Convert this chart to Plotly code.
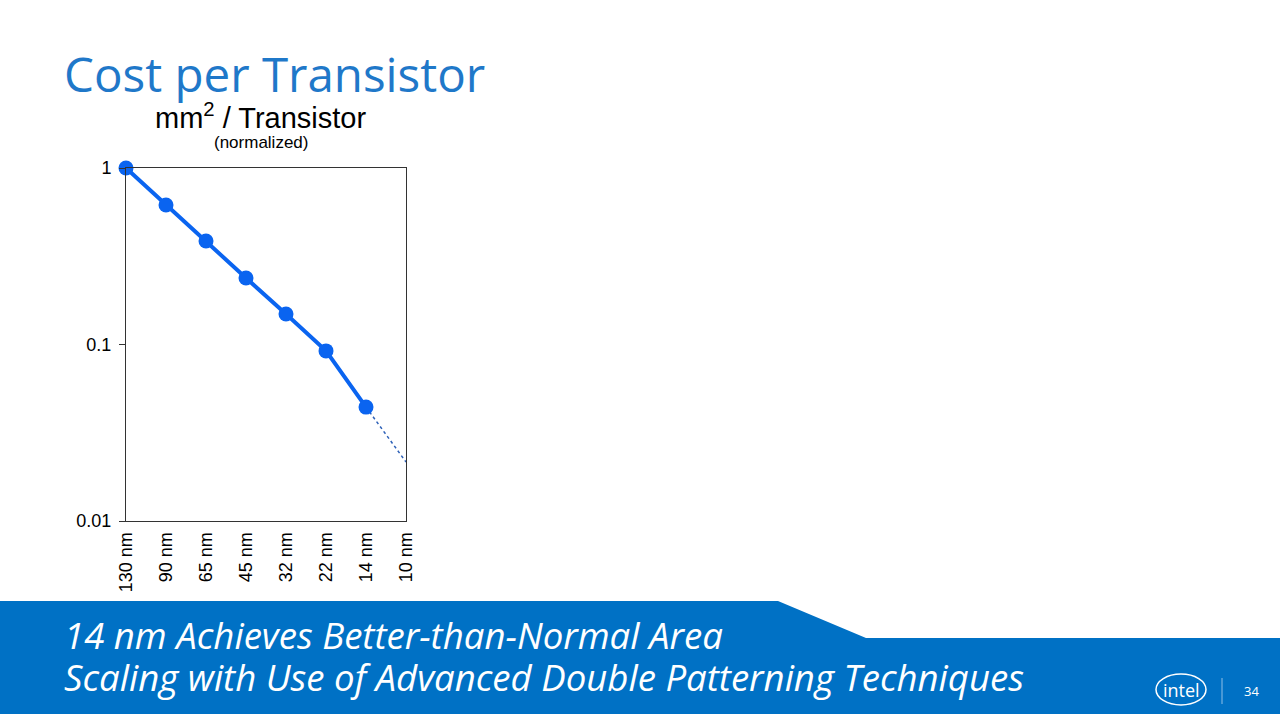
import plotly.graph_objects as go

nodes = ["130 nm", "90 nm", "65 nm", "45 nm", "32 nm", "22 nm", "14 nm", "10 nm"]
area_per_transistor = [1.0, 0.617, 0.386, 0.238, 0.149, 0.092, 0.0442]
projection_nodes = ["14 nm", "10 nm"]
projection_values = [0.0442, 0.0216]
y_ticks = [1, 0.1, 0.01]
y_tick_labels = ["1", "0.1", "0.01"]

# The page shows the figure inside an 8 px body margin: map window pixels to paper.
OFF, FW, FH = 8, 1264, 698


def px(X):
    return (X - OFF) / FW


def py(Y):
    return 1 - (Y - OFF) / FH


fig = go.Figure()

fig.add_trace(go.Scatter(
    x=projection_nodes, y=projection_values, mode="lines",
    line=dict(color="#2F62B8", width=1.5, dash="dot"),
    cliponaxis=False, showlegend=False, hoverinfo="skip"))
fig.add_trace(go.Scatter(
    x=nodes[:len(area_per_transistor)], y=area_per_transistor, mode="lines+markers",
    line=dict(color="#0A64F0", width=4),
    marker=dict(color="#0A64F0", size=15, line=dict(width=0)),
    cliponaxis=False, showlegend=False))

fig.update_layout(
    template="none",
    width=FW, height=FH, autosize=False,
    margin=dict(l=0, r=0, t=0, b=0, pad=0, autoexpand=False),
    paper_bgcolor="white", plot_bgcolor="white",
    font=dict(family="Liberation Sans, Arial, sans-serif", color="black"),
    xaxis=dict(
        domain=[px(126), px(406)], type="category", automargin=False,
        categoryorder="array", categoryarray=nodes,
        range=[0, len(nodes) - 1],
        tickangle=-90, tickfont=dict(size=18, color="black"),
        showgrid=False, zeroline=False, showline=True, linecolor="#333333",
        linewidth=1, mirror=True, ticks="", ticklabelstandoff=3),
    yaxis=dict(
        domain=[py(521), py(168)], type="log", automargin=False,
        range=[-2, 0], tickvals=y_ticks, ticktext=y_tick_labels,
        tickfont=dict(size=18, color="black"),
        showgrid=False, zeroline=False, showline=True, linecolor="#333333",
        linewidth=1, mirror=True, ticks="outside", ticklen=6, tickwidth=1,
        tickcolor="#333333", ticklabelstandoff=4),
)

# banner
fig.add_shape(type="path", xref="paper", yref="paper",
              path=(f"M 0 {py(601)} L {px(778)} {py(601)} L {px(866)} {py(638)} "
                    f"L 1 {py(638)} L 1 0 L 0 0 Z"),
              fillcolor="#0071C5", line=dict(width=0), layer="below")

# Title and chart captions
fig.add_annotation(x=px(62), y=py(73), xref="paper", yref="paper", xanchor="left", yanchor="middle",
                   text="Cost per Transistor", showarrow=False,
                   font=dict(family="Open Sans, Noto Sans, sans-serif", size=47.5, color="#1F78C9"))
fig.add_annotation(x=px(260), y=py(116), xref="paper", yref="paper", xanchor="center", yanchor="middle",
                   text="mm<sup>2</sup> / Transistor", showarrow=False,
                   font=dict(family="Liberation Sans, Arial, sans-serif", size=29, color="black"))
fig.add_annotation(x=px(261), y=py(143), xref="paper", yref="paper", xanchor="center", yanchor="middle",
                   text="(normalized)", showarrow=False,
                   font=dict(family="Liberation Sans, Arial, sans-serif", size=17, color="black"))

# banner text
fig.add_annotation(x=px(62), y=py(635), xref="paper", yref="paper", xanchor="left", yanchor="middle",
                   text="<i>14 nm Achieves Better-than-Normal Area</i>", showarrow=False,
                   font=dict(family="Open Sans, Noto Sans, sans-serif", size=36.6, color="white"))
fig.add_annotation(x=px(62), y=py(677), xref="paper", yref="paper", xanchor="left", yanchor="middle",
                   text="<i>Scaling with Use of Advanced Double Patterning Techniques</i>", showarrow=False,
                   font=dict(family="Open Sans, Noto Sans, sans-serif", size=36.6, color="white"))

# intel logo and page number
fig.add_shape(type="circle", xref="paper", yref="paper",
              x0=px(1156), x1=px(1206), y0=py(705), y1=py(674),
              line=dict(color="white", width=1.5))
fig.add_annotation(x=px(1181), y=py(690), xref="paper", yref="paper", xanchor="center", yanchor="middle",
                   text="intel", showarrow=False,
                   font=dict(family="Open Sans, Noto Sans, sans-serif", size=18, color="white"))
fig.add_shape(type="line", xref="paper", yref="paper",
              x0=px(1222), x1=px(1222), y0=py(704), y1=py(678),
              line=dict(color="#8FBFE6", width=1))
fig.add_annotation(x=px(1251), y=py(691), xref="paper", yref="paper", xanchor="center", yanchor="middle",
                   text="34", showarrow=False,
                   font=dict(family="Open Sans, Noto Sans, sans-serif", size=13, color="white"))

post = ("document.documentElement.style.background="
        "'linear-gradient(#ffffff,#ffffff) right top / 8px 638px no-repeat, "
        "linear-gradient(to bottom, #ffffff 0px, #ffffff 601px, #0071C5 601px, #0071C5 100%)';")
fig.write_html("out.html", post_script=post, config={"displayModeBar": False})
